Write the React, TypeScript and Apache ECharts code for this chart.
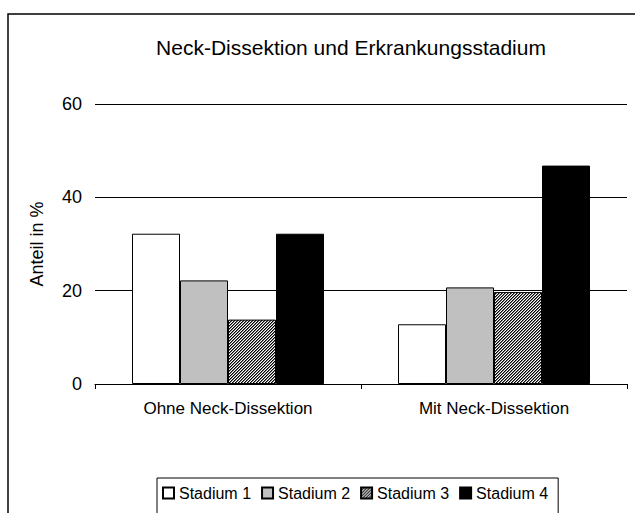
import React, { useEffect, useRef } from "react";
import * as echarts from "echarts";

const titleText = "Neck-Dissektion und Erkrankungsstadium";
const categories = ["Ohne Neck-Dissektion", "Mit Neck-Dissektion"];
const seriesNames = ["Stadium 1", "Stadium 2", "Stadium 3", "Stadium 4"];
const stadium1 = [32.2, 12.8];
const stadium2 = [22.2, 20.7];
const stadium3 = [13.8, 19.7];
const stadium4 = [32.2, 46.8];
const yTicks = [0, 20, 40, 60];
const yAxisName = "Anteil in %";

const FONT = "'Liberation Sans', Arial, sans-serif";

function makeHatch(): HTMLCanvasElement {
  const c = document.createElement("canvas");
  c.width = 3;
  c.height = 3;
  const ctx = c.getContext("2d")!;
  ctx.fillStyle = "#ffffff";
  ctx.fillRect(0, 0, 3, 3);
  ctx.fillStyle = "#000000";
  for (let i = 0; i < 3; i++) {
    ctx.fillRect(2 - i, i, 1, 1);
  }
  ctx.fillStyle = "#777777";
  for (let i = 0; i < 3; i++) {
    ctx.fillRect((3 - i) % 3, i, 1, 1);
  }
  return c;
}

export default function App() {
  const ref = useRef<HTMLDivElement>(null);

  useEffect(() => {
    if (!ref.current) return;
    const chart = echarts.init(ref.current, undefined, { renderer: "svg" });
    const hatch = makeHatch();
    const fills: any[] = [
      "#ffffff",
      "#c0c0c0",
      { image: hatch, repeat: "repeat", imageWidth: 3, imageHeight: 3 },
      "#000000",
    ];
    const values = [stadium1, stadium2, stadium3, stadium4];

    chart.setOption({
      animation: false,
      backgroundColor: "#ffffff",
      textStyle: { fontFamily: FONT },
      graphic: [
        {
          type: "rect",
          shape: { x: 8, y: 14, width: 700, height: 600 },
          style: { fill: "none", stroke: "#000", lineWidth: 1.5 },
          silent: true,
          z: -10,
        },
        {
          type: "text",
          x: 351,
          y: 47,
          style: {
            text: titleText,
            fontSize: 21,
            fontFamily: FONT,
            fill: "#000",
            align: "center",
            verticalAlign: "middle",
          },
        },
      ],
      grid: { left: 95, right: 8, top: 104, bottom: 129, containLabel: false },
      xAxis: {
        type: "category",
        data: categories,
        axisLine: { show: true, lineStyle: { color: "#000", width: 1 } },
        axisTick: { show: true, alignWithLabel: false, length: 5, lineStyle: { color: "#000" } },
        axisLabel: { fontSize: 17, color: "#000", margin: 16, fontFamily: FONT },
        splitLine: { show: false },
      },
      yAxis: {
        type: "value",
        min: yTicks[0],
        max: yTicks[yTicks.length - 1],
        interval: 20,
        name: yAxisName,
        nameLocation: "middle",
        nameGap: 49,
        nameTextStyle: { fontSize: 18, color: "#000", fontFamily: FONT },
        axisLine: { show: false },
        axisTick: { show: false },
        axisLabel: { fontSize: 18, color: "#000", margin: 13, fontFamily: FONT },
        splitLine: { show: true, lineStyle: { color: "#000", width: 1 } },
      },
      legend: {
        data: seriesNames,
        left: 157,
        top: 478,
        orient: "horizontal",
        icon: "rect",
        itemWidth: 11,
        itemHeight: 11,
        itemGap: 10,
        padding: [7, 10, 40, 5],
        borderColor: "#000",
        borderWidth: 1,
        textStyle: { fontSize: 16, color: "#000", fontFamily: FONT },
      },
      series: values.map((v, i) => ({
        name: seriesNames[i],
        type: "bar",
        data: v,
        barWidth: 48,
        barGap: "0%",
        itemStyle: { color: fills[i], borderColor: "#000", borderWidth: 1 },
      })),
    });

    return () => {
      chart.dispose();
    };
  }, []);

  return (
    <div
      ref={ref}
      style={{ position: "absolute", left: 0, top: 0, width: 635, height: 513 }}
    />
  );
}
